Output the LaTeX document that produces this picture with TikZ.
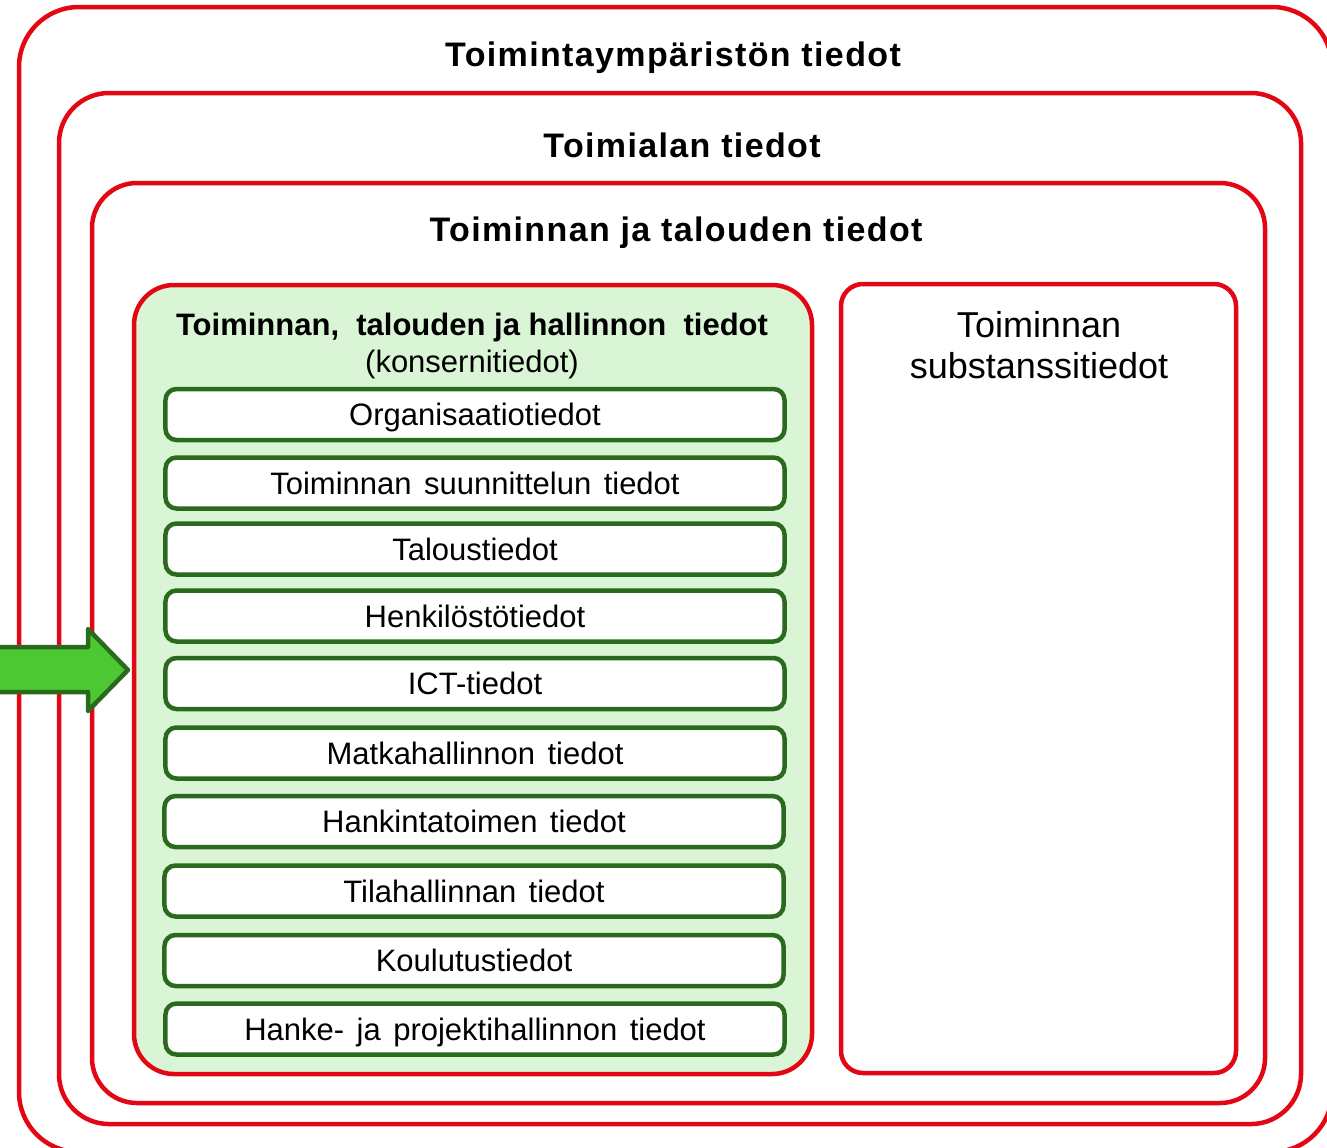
\documentclass[tikz,border=0pt]{standalone}
\usepackage{fontspec}
\setmainfont{Liberation Sans}
\definecolor{boxred}{HTML}{E30613}
\definecolor{leafgreen}{HTML}{DAF5D6}
\definecolor{darkgreen}{HTML}{2A6A1C}
\definecolor{arrowgreen}{HTML}{4CC932}
\newcommand\wsp{\hspace{12.5bp}}
\tikzset{
  redframe/.style={draw=boxred, line width=4.5bp, inner sep=0pt, outer sep=0pt, anchor=north west},
  itembox/.style={draw=darkgreen, line width=4.5bp, fill=white, rounded corners=11bp,
    minimum width=619bp, minimum height=51bp, inner sep=0pt, outer sep=0pt,
    text height=22bp, text depth=0bp,
    font=\fontsize{31bp}{37bp}\selectfont},
  titletext/.style={anchor=base, inner sep=0pt,
    font=\fontsize{34bp}{40bp}\selectfont\bfseries\addfontfeature{LetterSpace=4}},
  plaintext/.style={anchor=base, inner sep=0pt}
}
\begin{document}
\begin{tikzpicture}[x=1bp,y=-1bp]
\useasboundingbox (0,0) rectangle (1327,1147);
\begin{scope}
\clip (0,0) rectangle (1327,1147);
\node[redframe, rounded corners=60bp, minimum width=1313bp, minimum height=1145bp] (env) at (19,7) {};
\node[redframe, rounded corners=50bp, minimum width=1242bp, minimum height=1031bp] (ind) at (59,93) {};
\node[redframe, rounded corners=45bp, minimum width=1173bp, minimum height=920bp] (ops) at (92,183) {};
\node[redframe, rounded corners=40bp, minimum width=678bp, minimum height=789bp, fill=leafgreen] (grp) at (134,285) {};
\node[redframe, rounded corners=22bp, minimum width=395bp, minimum height=789bp] (sub) at (841,284) {};

\node[titletext] (t1) at (673,66) {Toimintaympäristön tiedot};
\node[titletext] (t2) at (682,157) {Toimialan tiedot};
\node[titletext] (t3) at (676,241) {Toiminnan ja talouden tiedot};

\node[plaintext, font=\fontsize{31bp}{37bp}\selectfont\bfseries] (t4) at (472,335) {Toiminnan,\ \ talouden ja hallinnon\ \ tiedot};
\node[plaintext, font=\fontsize{31bp}{37bp}\selectfont] (t5) at (472,372) {(konsernitiedot)};

\node[plaintext, font=\fontsize{36bp}{41bp}\selectfont] (s1) at (1039,337) {Toiminnan};
\node[plaintext, font=\fontsize{36bp}{41bp}\selectfont] (s2) at (1039,378) {substanssitiedot};

\node[itembox] (i1) at (475,414.5) {Organisaatiotiedot};
\node[itembox] (i2) at (475,483) {Toiminnan\wsp suunnittelun\wsp tiedot};
\node[itembox] (i3) at (475,549) {Taloustiedot};
\node[itembox] (i4) at (475,616) {Henkilöstötiedot};
\node[itembox] (i5) at (475,683.5) {ICT-tiedot};
\node[itembox] (i6) at (475,753) {Matkahallinnon\wsp tiedot};
\node[itembox] (i7) at (474,821.5) {Hankintatoimen\wsp tiedot};
\node[itembox] (i8) at (474,891) {Tilahallinnan\wsp tiedot};
\node[itembox] (i9) at (474,960.5) {Koulutustiedot};
\node[itembox] (i10) at (475,1029) {Hanke-\wsp ja\wsp projektihallinnon\wsp tiedot};

\draw[draw=darkgreen, fill=arrowgreen, line width=4.5bp, line join=round]
  (-10,647) -- (88,647) -- (88,629) -- (128,670) -- (88,711) -- (88,692) -- (-10,692) -- cycle;
\end{scope}
\end{tikzpicture}
\end{document}
